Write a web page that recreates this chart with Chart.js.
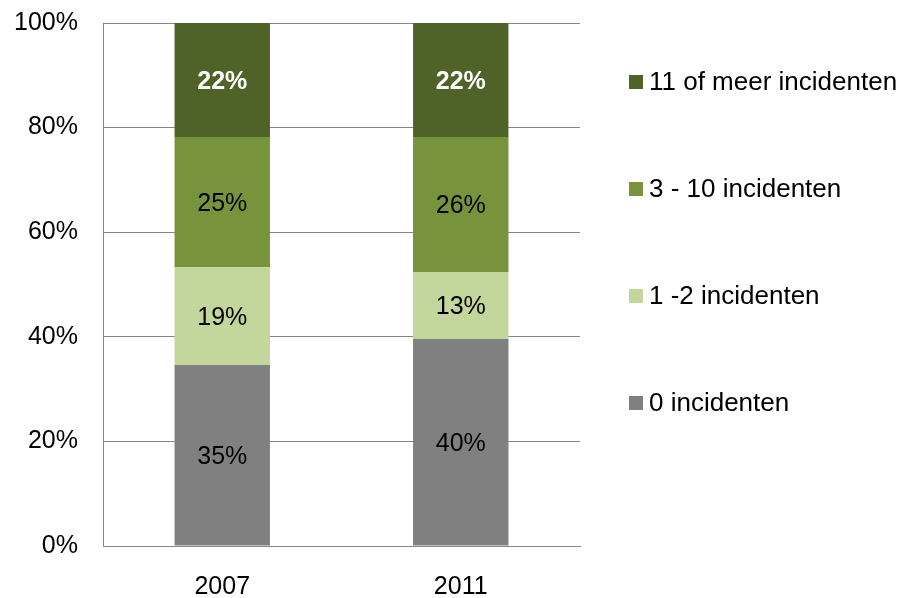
<!DOCTYPE html>
<html>
<head>
<meta charset="utf-8">
<script src="https://cdn.jsdelivr.net/npm/chart.js@4"></script>
<style>
  html, body { margin: 0; padding: 0; background: #fff; }
  #wrap { width: 913px; height: 598px; }
</style>
</head>
<body>
<div id="wrap"><canvas id="incidentChart"></canvas></div>
<script>
const years = ['2007', '2011'];
const seriesNames = ['0 incidenten', '1 -2 incidenten', '3 - 10 incidenten', '11 of meer incidenten'];
const seriesColors = ['#808080', '#c3d69b', '#77933c', '#4f6228'];
// bar heights (share of 100%)
const zeroInc = [34.6, 39.6];
const oneTwoInc = [18.7, 12.8];
const threeTenInc = [24.9, 25.8];
const elevenPlusInc = [21.8, 21.8];
// printed labels
const zeroLabels = ['35%', '40%'];
const oneTwoLabels = ['19%', '13%'];
const threeTenLabels = ['25%', '26%'];
const elevenPlusLabels = ['22%', '22%'];
const yTicks = [0, 20, 40, 60, 80, 100];

const FONT = "'Liberation Sans', Arial, sans-serif";
const FONT_SIZE = 25;
const values = [zeroInc, oneTwoInc, threeTenInc, elevenPlusInc];
const labelSets = [zeroLabels, oneTwoLabels, threeTenLabels, elevenPlusLabels];

const barLabels = {
  id: 'barLabels',
  afterDatasetsDraw(chart) {
    const ctx = chart.ctx;
    ctx.save();
    ctx.textAlign = 'center';
    ctx.textBaseline = 'middle';
    chart.data.datasets.forEach((ds, i) => {
      const meta = chart.getDatasetMeta(i);
      const top = i === chart.data.datasets.length - 1;
      ctx.font = (top ? 'bold ' : '') + FONT_SIZE + 'px ' + FONT;
      ctx.fillStyle = top ? '#ffffff' : '#000000';
      meta.data.forEach((bar, j) => {
        const mid = (bar.y + bar.base) / 2;
        ctx.fillText(labelSets[i][j], bar.x, mid + 2);
      });
    });
    ctx.restore();
  }
};

const sideLegend = {
  id: 'sideLegend',
  afterDraw(chart) {
    const ctx = chart.ctx;
    const x = chart.chartArea.right + 49;
    let y = 82;
    ctx.save();
    ctx.font = '26px ' + FONT;
    ctx.textBaseline = 'middle';
    ctx.textAlign = 'left';
    for (let i = chart.data.datasets.length - 1; i >= 0; i--) {
      const ds = chart.data.datasets[i];
      ctx.fillStyle = ds.backgroundColor;
      ctx.fillRect(x, y - 7, 14, 14);
      ctx.fillStyle = '#000';
      ctx.fillText(ds.label, x + 20, y + 1);
      y += 107;
    }
    ctx.restore();
  }
};

const datasets = seriesNames.map((name, i) => ({
  label: name,
  data: values[i],
  backgroundColor: seriesColors[i],
  borderWidth: 0,
  categoryPercentage: 1,
  barPercentage: 0.4
}));

new Chart(document.getElementById('incidentChart'), {
  type: 'bar',
  data: { labels: years, datasets: datasets },
  options: {
    responsive: true,
    maintainAspectRatio: false,
    animation: false,
    layout: { padding: { left: 0, right: 333, top: 23, bottom: 0 } },
    plugins: {
      legend: { display: false },
      tooltip: { enabled: false }
    },
    scales: {
      x: {
        stacked: true,
        grid: { display: false, drawTicks: false },
        border: { color: '#868686', width: 1 },
        ticks: { color: '#000', padding: 26, font: { family: FONT, size: FONT_SIZE } },
        afterFit: (scale) => {
          scale.height = 52;
          scale.paddingLeft = 0;
          scale.paddingRight = 0;
        }
      },
      y: {
        stacked: true,
        min: 0,
        max: 100,
        afterBuildTicks: (scale) => { scale.ticks = yTicks.map(v => ({ value: v })); },
        grid: { color: '#868686', lineWidth: 1, drawTicks: false },
        border: { color: '#868686', width: 1 },
        ticks: {
          color: '#000',
          padding: 25,
          font: { family: FONT, size: FONT_SIZE },
          callback: (v) => v + '%'
        },
        afterFit: (scale) => {
          scale.width = 103;
          scale.paddingTop = 0;
          scale.paddingBottom = 0;
        }
      }
    }
  },
  plugins: [barLabels, sideLegend]
});
</script>
</body>
</html>
